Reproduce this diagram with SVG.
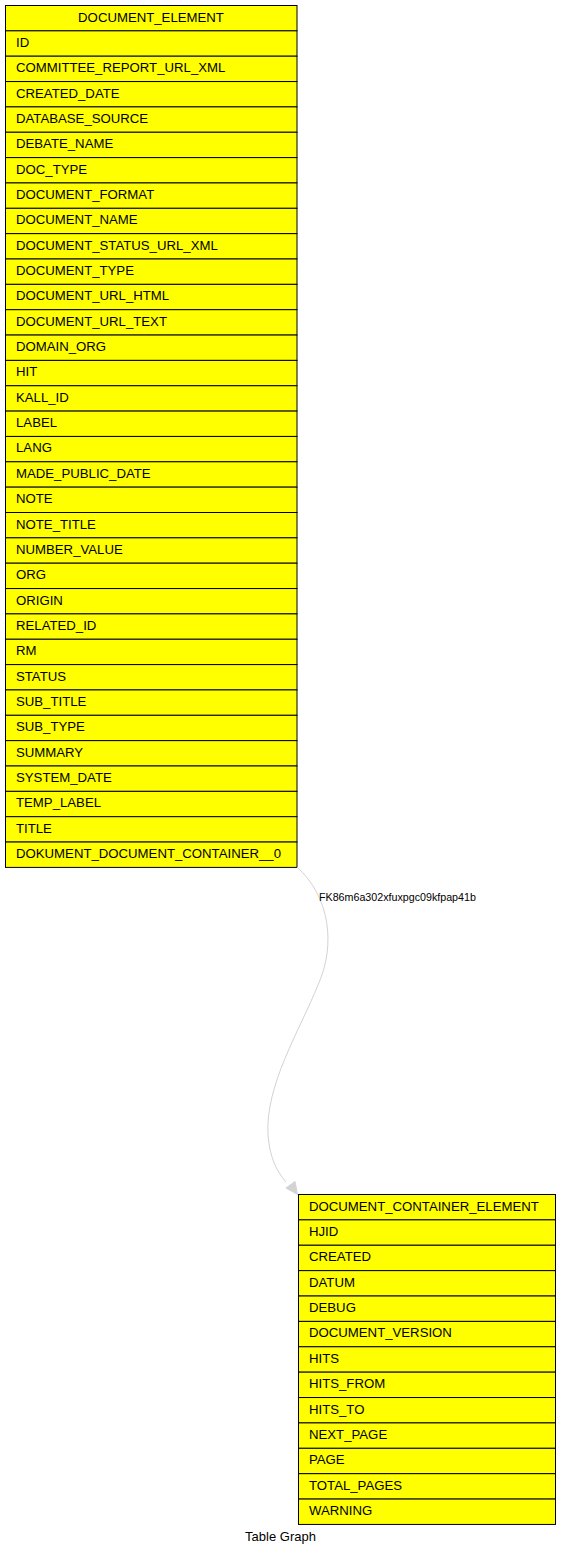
<svg xmlns="http://www.w3.org/2000/svg" width="561" height="1555" viewBox="0 0 561 1555">
<style>
.cell{fill:#ffff00;stroke:#000;stroke-width:1}
.t{font-family:"Liberation Sans",Arial,sans-serif;font-size:13.2px;fill:#000;transform:translateY(-0.8px)}
.hc{text-anchor:middle}
.edge{fill:none;stroke:#d3d3d3;stroke-width:1}
.lbl{font-family:"Liberation Sans",Arial,sans-serif;font-size:10.7px;fill:#000}
</style>
<rect width="561" height="1555" fill="#fff"/>
<g id="DOCUMENT_ELEMENT">
<rect class="cell" x="5.5" y="5.5" width="291.5" height="25.35"/>
<text class="t hc" x="151" y="22.4">DOCUMENT_ELEMENT</text>
<rect class="cell" x="5.5" y="30.85" width="291.5" height="25.35"/><text class="t" x="16" y="47.7">ID</text>
<rect class="cell" x="5.5" y="56.2" width="291.5" height="25.35"/><text class="t" x="16" y="73.1">COMMITTEE_REPORT_URL_XML</text>
<rect class="cell" x="5.5" y="81.55" width="291.5" height="25.35"/><text class="t" x="16" y="98.4">CREATED_DATE</text>
<rect class="cell" x="5.5" y="106.9" width="291.5" height="25.35"/><text class="t" x="16" y="123.8">DATABASE_SOURCE</text>
<rect class="cell" x="5.5" y="132.25" width="291.5" height="25.35"/><text class="t" x="16" y="149.1">DEBATE_NAME</text>
<rect class="cell" x="5.5" y="157.6" width="291.5" height="25.35"/><text class="t" x="16" y="174.5">DOC_TYPE</text>
<rect class="cell" x="5.5" y="182.95" width="291.5" height="25.35"/><text class="t" x="16" y="199.8">DOCUMENT_FORMAT</text>
<rect class="cell" x="5.5" y="208.3" width="291.5" height="25.35"/><text class="t" x="16" y="225.2">DOCUMENT_NAME</text>
<rect class="cell" x="5.5" y="233.65" width="291.5" height="25.35"/><text class="t" x="16" y="250.5">DOCUMENT_STATUS_URL_XML</text>
<rect class="cell" x="5.5" y="259" width="291.5" height="25.35"/><text class="t" x="16" y="275.9">DOCUMENT_TYPE</text>
<rect class="cell" x="5.5" y="284.35" width="291.5" height="25.35"/><text class="t" x="16" y="301.2">DOCUMENT_URL_HTML</text>
<rect class="cell" x="5.5" y="309.7" width="291.5" height="25.35"/><text class="t" x="16" y="326.6">DOCUMENT_URL_TEXT</text>
<rect class="cell" x="5.5" y="335.05" width="291.5" height="25.35"/><text class="t" x="16" y="351.9">DOMAIN_ORG</text>
<rect class="cell" x="5.5" y="360.4" width="291.5" height="25.35"/><text class="t" x="16" y="377.3">HIT</text>
<rect class="cell" x="5.5" y="385.75" width="291.5" height="25.35"/><text class="t" x="16" y="402.6">KALL_ID</text>
<rect class="cell" x="5.5" y="411.1" width="291.5" height="25.35"/><text class="t" x="16" y="428">LABEL</text>
<rect class="cell" x="5.5" y="436.45" width="291.5" height="25.35"/><text class="t" x="16" y="453.3">LANG</text>
<rect class="cell" x="5.5" y="461.8" width="291.5" height="25.35"/><text class="t" x="16" y="478.7">MADE_PUBLIC_DATE</text>
<rect class="cell" x="5.5" y="487.15" width="291.5" height="25.35"/><text class="t" x="16" y="504">NOTE</text>
<rect class="cell" x="5.5" y="512.5" width="291.5" height="25.35"/><text class="t" x="16" y="529.4">NOTE_TITLE</text>
<rect class="cell" x="5.5" y="537.85" width="291.5" height="25.35"/><text class="t" x="16" y="554.7">NUMBER_VALUE</text>
<rect class="cell" x="5.5" y="563.2" width="291.5" height="25.35"/><text class="t" x="16" y="580.1">ORG</text>
<rect class="cell" x="5.5" y="588.55" width="291.5" height="25.35"/><text class="t" x="16" y="605.4">ORIGIN</text>
<rect class="cell" x="5.5" y="613.9" width="291.5" height="25.35"/><text class="t" x="16" y="630.8">RELATED_ID</text>
<rect class="cell" x="5.5" y="639.25" width="291.5" height="25.35"/><text class="t" x="16" y="656.1">RM</text>
<rect class="cell" x="5.5" y="664.6" width="291.5" height="25.35"/><text class="t" x="16" y="681.5">STATUS</text>
<rect class="cell" x="5.5" y="689.95" width="291.5" height="25.35"/><text class="t" x="16" y="706.8">SUB_TITLE</text>
<rect class="cell" x="5.5" y="715.3" width="291.5" height="25.35"/><text class="t" x="16" y="732.2">SUB_TYPE</text>
<rect class="cell" x="5.5" y="740.65" width="291.5" height="25.35"/><text class="t" x="16" y="757.5">SUMMARY</text>
<rect class="cell" x="5.5" y="766" width="291.5" height="25.35"/><text class="t" x="16" y="782.9">SYSTEM_DATE</text>
<rect class="cell" x="5.5" y="791.35" width="291.5" height="25.35"/><text class="t" x="16" y="808.2">TEMP_LABEL</text>
<rect class="cell" x="5.5" y="816.7" width="291.5" height="25.35"/><text class="t" x="16" y="833.6">TITLE</text>
<rect class="cell" x="5.5" y="842.05" width="291.5" height="25.35"/><text class="t" x="16" y="858.9">DOKUMENT_DOCUMENT_CONTAINER__0</text>
</g>
<g id="DOCUMENT_CONTAINER_ELEMENT">
<rect class="cell" x="298.5" y="1194.5" width="257" height="25.38"/><text class="t" x="309" y="1211.4">DOCUMENT_CONTAINER_ELEMENT</text>
<rect class="cell" x="298.5" y="1219.88" width="257" height="25.38"/><text class="t" x="309" y="1236.8">HJID</text>
<rect class="cell" x="298.5" y="1245.26" width="257" height="25.38"/><text class="t" x="309" y="1262.2">CREATED</text>
<rect class="cell" x="298.5" y="1270.64" width="257" height="25.38"/><text class="t" x="309" y="1287.6">DATUM</text>
<rect class="cell" x="298.5" y="1296.02" width="257" height="25.38"/><text class="t" x="309" y="1312.9">DEBUG</text>
<rect class="cell" x="298.5" y="1321.4" width="257" height="25.38"/><text class="t" x="309" y="1338.3">DOCUMENT_VERSION</text>
<rect class="cell" x="298.5" y="1346.78" width="257" height="25.38"/><text class="t" x="309" y="1363.7">HITS</text>
<rect class="cell" x="298.5" y="1372.16" width="257" height="25.38"/><text class="t" x="309" y="1389.1">HITS_FROM</text>
<rect class="cell" x="298.5" y="1397.54" width="257" height="25.38"/><text class="t" x="309" y="1414.4">HITS_TO</text>
<rect class="cell" x="298.5" y="1422.92" width="257" height="25.38"/><text class="t" x="309" y="1439.8">NEXT_PAGE</text>
<rect class="cell" x="298.5" y="1448.3" width="257" height="25.38"/><text class="t" x="309" y="1465.2">PAGE</text>
<rect class="cell" x="298.5" y="1473.68" width="257" height="25.38"/><text class="t" x="309" y="1490.6">TOTAL_PAGES</text>
<rect class="cell" x="298.5" y="1499.06" width="257" height="25.38"/><text class="t" x="309" y="1515.9">WARNING</text>
</g>
<g id="connectors">
<path class="edge" d="M297,867 C330,897 336,945 318,985 C300,1030 265,1085 268,1135 C270,1158 276,1170 286,1182"/>
<polygon points="297.5,1194.5 295,1181.5 286,1188" fill="#d3d3d3" stroke="#d3d3d3"/>
<text class="lbl" x="319" y="900.5">FK86m6a302xfuxpgc09kfpap41b</text>
</g>
<text x="280.5" y="1540.5" text-anchor="middle" style="font-family:'Liberation Sans',Arial,sans-serif;font-size:13px;fill:#000">Table Graph</text>
</svg>
